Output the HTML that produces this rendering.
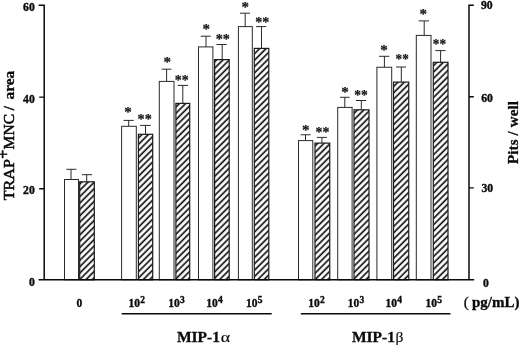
<!DOCTYPE html>
<html lang="en"><head><meta charset="utf-8"><title>MIP-1 bar chart</title>
<style>
html,body{margin:0;padding:0;background:#fff;}
body{width:520px;height:346px;overflow:hidden;}
svg{display:block;}
text{font-family:"Liberation Serif",serif;fill:#0a0a0a;}
.b{font-weight:bold;stroke:#0a0a0a;stroke-width:0.45px;}
.tk{font-weight:bold;font-size:11.7px;stroke:#0a0a0a;stroke-width:0.35px;}
.xl{font-weight:bold;font-size:11.5px;stroke:#0a0a0a;stroke-width:0.35px;}
.sup{font-weight:bold;font-size:9.5px;}
.big{font-weight:bold;font-size:15px;stroke:#0a0a0a;stroke-width:0.3px;}
.rg{font-weight:normal;stroke:#0a0a0a;stroke-width:0.55px;}
.st{font-size:15.0px;font-weight:bold;fill:#111;stroke:#111;stroke-width:0.2px;}
</style></head><body>
<svg width="520" height="346" viewBox="0 0 520 346">
<defs><pattern id="hz" patternUnits="userSpaceOnUse" width="4.5" height="4.5" patternTransform="rotate(-45)">
<rect x="0" y="0" width="4.5" height="4.5" fill="#fff"/><rect x="0" y="1.2" width="4.5" height="1.65" fill="#0c0c0c"/></pattern></defs>
<rect x="0" y="0" width="520" height="346" fill="#fff"/>
<rect x="64.5" y="179.5" width="14.00" height="100.30" fill="#fff" stroke="#2a2a2a" stroke-width="1"/>
<path d="M71.0 179.5V169.3M66.4 169.3H76.4" stroke="#2a2a2a" stroke-width="1" fill="none"/>
<rect x="79.7" y="181.8" width="14.60" height="98.00" fill="url(#hz)" stroke="#1a1a1a" stroke-width="1.2"/>
<path d="M86.7 181.8V174.7M82.0 174.7H92.1" stroke="#2a2a2a" stroke-width="1" fill="none"/>
<rect x="121.6" y="126.3" width="14.70" height="153.50" fill="#fff" stroke="#2a2a2a" stroke-width="1"/>
<path d="M128.7 126.3V120.4M123.5 120.4H133.8" stroke="#2a2a2a" stroke-width="1" fill="none"/>
<text class="st" x="128.1" y="109.5" text-anchor="middle" dominant-baseline="auto" dy="7.2">*</text>
<rect x="138.4" y="134.3" width="14.30" height="145.50" fill="url(#hz)" stroke="#1a1a1a" stroke-width="1.2"/>
<path d="M145.5 134.3V125.4M140.1 125.4H150.7" stroke="#2a2a2a" stroke-width="1" fill="none"/>
<text class="st" x="144.65" y="117.1" text-anchor="middle" dy="7.2" textLength="14.2" lengthAdjust="spacingAndGlyphs">**</text>
<rect x="159.3" y="81.4" width="14.70" height="198.40" fill="#fff" stroke="#2a2a2a" stroke-width="1"/>
<path d="M166.6 81.4V69.2M161.6 69.2H171.4" stroke="#2a2a2a" stroke-width="1" fill="none"/>
<text class="st" x="167.2" y="59.8" text-anchor="middle" dominant-baseline="auto" dy="7.2">*</text>
<rect x="175.9" y="103.4" width="13.80" height="176.40" fill="url(#hz)" stroke="#1a1a1a" stroke-width="1.2"/>
<path d="M182.8 103.4V85.4M177.6 85.4H188.0" stroke="#2a2a2a" stroke-width="1" fill="none"/>
<text class="st" x="181.70" y="77.6" text-anchor="middle" dy="7.2" textLength="13.9" lengthAdjust="spacingAndGlyphs">**</text>
<rect x="198.5" y="46.9" width="14.40" height="232.90" fill="#fff" stroke="#2a2a2a" stroke-width="1"/>
<path d="M206.0 46.9V36.2M200.7 36.2H210.8" stroke="#2a2a2a" stroke-width="1" fill="none"/>
<text class="st" x="206.2" y="27.0" text-anchor="middle" dominant-baseline="auto" dy="7.2">*</text>
<rect x="214.6" y="59.6" width="14.60" height="220.20" fill="url(#hz)" stroke="#1a1a1a" stroke-width="1.2"/>
<path d="M222.2 59.6V44.5M216.5 44.5H226.7" stroke="#2a2a2a" stroke-width="1" fill="none"/>
<text class="st" x="222.85" y="37.0" text-anchor="middle" dy="7.2" textLength="14.2" lengthAdjust="spacingAndGlyphs">**</text>
<rect x="238.4" y="26.6" width="13.90" height="253.20" fill="#fff" stroke="#2a2a2a" stroke-width="1"/>
<path d="M245.2 26.6V13.2M240.0 13.2H250.0" stroke="#2a2a2a" stroke-width="1" fill="none"/>
<text class="st" x="245.2" y="4.4" text-anchor="middle" dominant-baseline="auto" dy="7.2">*</text>
<rect x="254.3" y="48.4" width="14.50" height="231.40" fill="url(#hz)" stroke="#1a1a1a" stroke-width="1.2"/>
<path d="M261.5 48.4V26.6M256.0 26.6H266.3" stroke="#2a2a2a" stroke-width="1" fill="none"/>
<text class="st" x="262.20" y="19.7" text-anchor="middle" dy="7.2" textLength="14.1" lengthAdjust="spacingAndGlyphs">**</text>
<rect x="298.5" y="140.6" width="14.30" height="139.20" fill="#fff" stroke="#2a2a2a" stroke-width="1"/>
<path d="M305.5 140.6V134.75M300.6 134.75H310.6" stroke="#2a2a2a" stroke-width="1" fill="none"/>
<text class="st" x="305.7" y="127.3" text-anchor="middle" dominant-baseline="auto" dy="7.2">*</text>
<rect x="315.0" y="143.1" width="14.75" height="136.70" fill="url(#hz)" stroke="#1a1a1a" stroke-width="1.2"/>
<path d="M321.9 143.1V137.4M316.9 137.4H326.9" stroke="#2a2a2a" stroke-width="1" fill="none"/>
<text class="st" x="322.50" y="129.5" text-anchor="middle" dy="7.2" textLength="13.9" lengthAdjust="spacingAndGlyphs">**</text>
<rect x="337.7" y="107.4" width="14.40" height="172.40" fill="#fff" stroke="#2a2a2a" stroke-width="1"/>
<path d="M344.8 107.4V97.3M340.1 97.3H349.6" stroke="#2a2a2a" stroke-width="1" fill="none"/>
<text class="st" x="345.0" y="89.5" text-anchor="middle" dominant-baseline="auto" dy="7.2">*</text>
<rect x="354.0" y="109.8" width="15.00" height="170.00" fill="url(#hz)" stroke="#1a1a1a" stroke-width="1.2"/>
<path d="M361.3 109.8V100.5M356.0 100.5H366.1" stroke="#2a2a2a" stroke-width="1" fill="none"/>
<text class="st" x="361.00" y="92.4" text-anchor="middle" dy="7.2" textLength="13.5" lengthAdjust="spacingAndGlyphs">**</text>
<rect x="376.9" y="67.25" width="14.80" height="212.55" fill="#fff" stroke="#2a2a2a" stroke-width="1"/>
<path d="M384.4 67.25V56.3M379.0 56.3H389.4" stroke="#2a2a2a" stroke-width="1" fill="none"/>
<text class="st" x="384.0" y="47.3" text-anchor="middle" dominant-baseline="auto" dy="7.2">*</text>
<rect x="393.5" y="82.1" width="15.25" height="197.70" fill="url(#hz)" stroke="#1a1a1a" stroke-width="1.2"/>
<path d="M401.3 82.1V67.0M396.0 67.0H406.0" stroke="#2a2a2a" stroke-width="1" fill="none"/>
<text class="st" x="402.15" y="57.0" text-anchor="middle" dy="7.2" textLength="13.2" lengthAdjust="spacingAndGlyphs">**</text>
<rect x="416.3" y="35.4" width="14.70" height="244.40" fill="#fff" stroke="#2a2a2a" stroke-width="1"/>
<path d="M424.2 35.4V20.9M418.6 20.9H428.9" stroke="#2a2a2a" stroke-width="1" fill="none"/>
<text class="st" x="423.3" y="11.8" text-anchor="middle" dominant-baseline="auto" dy="7.2">*</text>
<rect x="433.3" y="62.3" width="14.70" height="217.50" fill="url(#hz)" stroke="#1a1a1a" stroke-width="1.2"/>
<path d="M440.6 62.3V50.6M435.4 50.6H445.6" stroke="#2a2a2a" stroke-width="1" fill="none"/>
<text class="st" x="439.50" y="42.0" text-anchor="middle" dy="7.2" textLength="13.3" lengthAdjust="spacingAndGlyphs">**</text>
<path d="M38.6 5.3H44.2V279.8M38.6 279.8H474.2M469.0 279.8V5.2H473.8" stroke="#0a0a0a" stroke-width="1.5" fill="none" stroke-linejoin="miter"/>
<path d="M39.2 97.1H44.2M39.2 188.7H44.2M469.0 96.8H473.8M469.0 187.9H473.8" stroke="#0a0a0a" stroke-width="1.4" fill="none"/>
<text class="tk" x="34.8" y="10.6" text-anchor="end">60</text>
<text class="tk" x="34.8" y="102.6" text-anchor="end">40</text>
<text class="tk" x="34.8" y="193.8" text-anchor="end">20</text>
<text class="tk" x="34.8" y="286.4" text-anchor="end">0</text>
<text class="tk" x="481.0" y="9.1">90</text>
<text class="tk" x="481.2" y="102.4">60</text>
<text class="tk" x="481.5" y="192.3">30</text>
<text class="tk" x="482.9" y="286.7">0</text>
<text class="xl" x="76.5" y="306.6">0</text>
<text class="xl" x="128.5" y="306.7">10<tspan class="sup" dx="0.3" dy="-4.1">2</tspan></text>
<text class="xl" x="168.3" y="306.7">10<tspan class="sup" dx="0.3" dy="-4.1">3</tspan></text>
<text class="xl" x="206.2" y="306.7">10<tspan class="sup" dx="0.3" dy="-4.1">4</tspan></text>
<text class="xl" x="245.9" y="306.7">10<tspan class="sup" dx="0.3" dy="-4.1">5</tspan></text>
<text class="xl" x="308.3" y="306.7">10<tspan class="sup" dx="0.3" dy="-4.1">2</tspan></text>
<text class="xl" x="347.7" y="306.7">10<tspan class="sup" dx="0.3" dy="-4.1">3</tspan></text>
<text class="xl" x="385.5" y="306.7">10<tspan class="sup" dx="0.3" dy="-4.1">4</tspan></text>
<text class="xl" x="425.4" y="306.7">10<tspan class="sup" dx="0.3" dy="-4.1">5</tspan></text>
<path d="M121.7 313.7H271.7M300.8 313.7H450.5" stroke="#0a0a0a" stroke-width="1.4" fill="none"/>
<text class="big" style="font-size:15.5px" x="176.9" y="341.6">MIP-1<tspan style="font-weight:normal;font-size:14px;stroke-width:0.15px" dx="0.8" textLength="9.4" lengthAdjust="spacingAndGlyphs">α</tspan></text>
<text class="big" style="font-size:15.5px" x="351.9" y="341.6">MIP-1<tspan style="font-weight:normal;stroke-width:0.15px" dx="0.6">β</tspan></text>
<text class="big" x="463.8" y="307.2"><tspan style="font-weight:normal">(</tspan><tspan dx="3.2">pg/mL)</tspan></text>
<g transform="translate(14.1 0) rotate(-90)">
<text class="big rg" x="-200.2" y="0" textLength="41.0" lengthAdjust="spacingAndGlyphs">TRAP</text>
<text class="b" style="font-size:16px" x="-158.8" y="-5.0">+</text>
<text class="big rg" x="-149.4" y="0" textLength="35.4" lengthAdjust="spacingAndGlyphs">MNC</text>
<text class="big rg" x="-110.3" y="0">/</text>
<text class="big" x="-99.4" y="0" textLength="28.6" lengthAdjust="spacingAndGlyphs">area</text>
</g>
<g transform="translate(517.7 0) rotate(-90)">
<text class="big" x="-164" y="0" textLength="63" lengthAdjust="spacing">Pits / well</text>
</g>
</svg></body></html>
